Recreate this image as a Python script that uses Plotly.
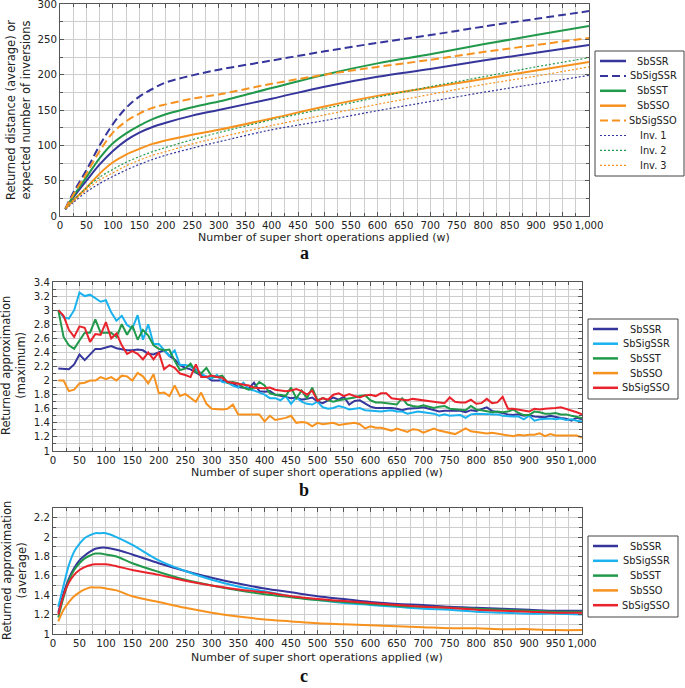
import plotly.graph_objects as go

# ---------------- data: panel a ----------------
W_A = [10, 25, 50, 75, 100, 125, 150, 175, 200, 250, 300, 400, 500, 600, 700, 800, 900, 1000]
A_SbSSR    = [10, 26, 50, 73, 92, 107, 118, 126, 132, 142, 150, 166, 183, 197, 208, 220, 231, 242]
A_SbSigSSR = [10, 33, 65, 100, 130, 153, 169, 180, 189, 199, 207, 220, 233, 245, 256, 268, 279, 290]
A_SbSST    = [10, 28, 55, 82, 103, 117, 128, 137, 144, 154, 162, 181, 200, 216, 229, 243, 256, 269]
A_SbSSO    = [10, 22, 40, 60, 76, 87, 95, 102, 107, 115, 122, 138, 155, 170, 182, 194, 206, 218]
A_SbSigSSO = [10, 30, 60, 92, 118, 134, 145, 153, 158, 166, 172, 187, 200, 211, 221, 232, 242, 252]
A_Inv1     = [9, 19, 34, 46, 56, 65, 73, 80, 86, 96, 105, 122, 135, 149, 162, 175, 187, 199]
A_Inv2     = [10, 22, 40, 55, 66, 76, 84, 91, 97, 108, 118, 136, 152, 168, 183, 197, 211, 224]
A_Inv3     = [10, 21, 37, 51, 61, 71, 79, 86, 91, 102, 111, 128, 143, 158, 172, 186, 198, 211]

# ---------------- data: panel b ----------------
W_B = list(range(10, 1001, 10))
B_SbSSR = [2.17, 2.17, 2.16, 2.23, 2.37, 2.29, 2.37, 2.45, 2.45, 2.47,
           2.49, 2.46, 2.44, 2.43, 2.43, 2.44, 2.43, 2.38, 2.37, 2.40,
           2.43, 2.35, 2.30, 2.22, 2.18, 2.16, 2.12, 2.07, 2.06, 2.00,
           2.00, 2.00, 1.98, 1.96, 1.91, 1.90, 1.89, 1.97, 1.85, 1.84,
           1.85, 1.80, 1.78, 1.77, 1.75, 1.76, 1.73, 1.74, 1.76, 1.70,
           1.68, 1.72, 1.76, 1.73, 1.77, 1.66, 1.71, 1.72, 1.68, 1.63,
           1.61, 1.61, 1.62, 1.61, 1.60, 1.58, 1.60, 1.60, 1.61, 1.62,
           1.60, 1.57, 1.56, 1.57, 1.57, 1.58, 1.57, 1.55, 1.58, 1.57,
           1.60, 1.62, 1.57, 1.55, 1.53, 1.52, 1.51, 1.52, 1.50, 1.51,
           1.49, 1.49, 1.48, 1.50, 1.48, 1.47, 1.46, 1.43, 1.47, 1.45]
B_SbSigSSR = [3.00, 2.90, 2.88, 3.00, 3.25, 3.20, 3.22, 3.17, 3.12, 3.14,
              2.97, 2.85, 2.92, 2.79, 2.74, 2.93, 2.58, 2.80, 2.52, 2.52,
              2.44, 2.35, 2.43, 2.22, 2.22, 2.20, 2.16, 2.10, 2.05, 2.03,
              2.08, 1.98, 1.97, 1.93, 1.90, 1.97, 1.88, 1.86, 1.83, 1.80,
              1.75, 1.75, 1.72, 1.78, 1.67, 1.76, 1.70, 1.67, 1.66, 1.70,
              1.62, 1.60, 1.61, 1.64, 1.62, 1.59, 1.60, 1.61, 1.58, 1.57,
              1.57, 1.56, 1.57, 1.58, 1.56, 1.56, 1.53, 1.55, 1.56, 1.55,
              1.54, 1.53, 1.50, 1.52, 1.50, 1.51, 1.51, 1.47, 1.52, 1.53,
              1.53, 1.52, 1.53, 1.52, 1.50, 1.49, 1.49, 1.49, 1.45, 1.50,
              1.43, 1.45, 1.46, 1.46, 1.45, 1.46, 1.44, 1.45, 1.43, 1.42]
B_SbSST = [3.00, 2.62, 2.50, 2.45, 2.57, 2.68, 2.68, 2.87, 2.68, 2.68,
           2.68, 2.62, 2.80, 2.65, 2.78, 2.58, 2.72, 2.64, 2.50, 2.45,
           2.43, 2.44, 2.28, 2.15, 2.17, 2.24, 2.12, 2.10, 2.18, 2.06,
           2.05, 2.07, 1.97, 1.98, 1.96, 1.90, 1.87, 1.90, 1.98, 1.93,
           1.82, 1.80, 1.80, 1.78, 1.90, 1.75, 1.86, 1.75, 1.90, 1.72,
           1.75, 1.72, 1.70, 1.72, 1.73, 1.74, 1.76, 1.78, 1.79, 1.72,
           1.69, 1.69, 1.68, 1.68, 1.66, 1.75, 1.66, 1.64, 1.63, 1.65,
           1.63, 1.61, 1.63, 1.64, 1.60, 1.59, 1.59, 1.58, 1.64, 1.59,
           1.58, 1.56, 1.55, 1.56, 1.55, 1.56, 1.59, 1.54, 1.51, 1.51,
           1.56, 1.55, 1.53, 1.53, 1.54, 1.52, 1.52, 1.50, 1.49, 1.47]
B_SbSSO = [2.00, 2.00, 1.85, 1.87, 1.96, 1.97, 2.00, 2.00, 2.05, 2.02,
           2.05, 2.00, 2.07, 2.06, 2.00, 2.11, 2.06, 1.96, 2.09, 1.82,
           1.83, 1.78, 1.93, 1.78, 1.81, 1.76, 1.70, 1.83, 1.67, 1.60,
           1.59, 1.59, 1.60, 1.66, 1.52, 1.52, 1.53, 1.52, 1.52, 1.42,
           1.50, 1.44, 1.45, 1.47, 1.50, 1.40, 1.41, 1.40, 1.35, 1.40,
           1.38, 1.39, 1.40, 1.37, 1.38, 1.39, 1.40, 1.38, 1.32, 1.35,
           1.33, 1.33, 1.31, 1.29, 1.32, 1.29, 1.27, 1.31, 1.30, 1.26,
           1.29, 1.32, 1.29, 1.27, 1.26, 1.24, 1.28, 1.32, 1.28, 1.27,
           1.25, 1.25, 1.26, 1.25, 1.24, 1.23, 1.21, 1.23, 1.22, 1.23,
           1.23, 1.25, 1.21, 1.24, 1.22, 1.22, 1.22, 1.23, 1.22, 1.19]
B_SbSigSSO = [3.00, 2.92, 2.72, 2.62, 2.77, 2.75, 2.55, 2.66, 2.65, 2.83,
              2.60, 2.67, 2.50, 2.38, 2.42, 2.38, 2.30, 2.40, 2.30, 2.40,
              2.16, 2.22, 2.18, 2.10, 2.08, 2.05, 2.23, 2.05, 2.05, 2.07,
              2.05, 2.04, 1.98, 1.97, 1.96, 1.94, 1.93, 1.90, 1.89, 1.89,
              1.90, 1.87, 1.86, 1.85, 1.86, 1.88, 1.85, 1.80, 1.86, 1.71,
              1.75, 1.73, 1.80, 1.82, 1.78, 1.81, 1.78, 1.76, 1.79, 1.80,
              1.78, 1.82, 1.82, 1.75, 1.74, 1.73, 1.72, 1.74, 1.73, 1.73,
              1.72, 1.70, 1.69, 1.68, 1.76, 1.70, 1.69, 1.69, 1.73, 1.67,
              1.68, 1.74, 1.68, 1.69, 1.77, 1.60, 1.60, 1.59, 1.57, 1.56,
              1.60, 1.59, 1.60, 1.60, 1.61, 1.62, 1.60, 1.57, 1.55, 1.52]

# ---------------- data: panel c ----------------
W_C = [10, 20, 30, 40, 50, 60, 70, 80, 90, 100, 120, 150, 200, 250, 300, 350, 400,
       450, 500, 550, 600, 650, 700, 750, 800, 850, 900, 950, 1000]
C_SbSSR    = [1.22, 1.42, 1.57, 1.68, 1.76, 1.81, 1.85, 1.88, 1.89, 1.89, 1.87, 1.82, 1.73, 1.65,
              1.58, 1.52, 1.47, 1.43, 1.39, 1.36, 1.33, 1.31, 1.30, 1.28, 1.27, 1.26, 1.25, 1.24, 1.24]
C_SbSigSSR = [1.28, 1.50, 1.71, 1.85, 1.93, 1.99, 2.02, 2.04, 2.04, 2.04, 2.00, 1.92, 1.76, 1.65,
              1.56, 1.49, 1.44, 1.39, 1.35, 1.32, 1.30, 1.28, 1.26, 1.25, 1.23, 1.22, 1.21, 1.21, 1.20]
C_SbSST    = [1.17, 1.38, 1.55, 1.66, 1.73, 1.78, 1.81, 1.83, 1.83, 1.82, 1.80, 1.73, 1.64, 1.56,
              1.50, 1.45, 1.41, 1.38, 1.35, 1.33, 1.31, 1.29, 1.28, 1.27, 1.26, 1.25, 1.24, 1.23, 1.23]
C_SbSSO    = [1.13, 1.25, 1.33, 1.39, 1.43, 1.46, 1.48, 1.48, 1.48, 1.47, 1.45, 1.39, 1.33, 1.27,
              1.22, 1.18, 1.15, 1.13, 1.11, 1.10, 1.09, 1.08, 1.07, 1.06, 1.06, 1.05, 1.05, 1.04, 1.04]
C_SbSigSSO = [1.20, 1.40, 1.53, 1.61, 1.66, 1.69, 1.71, 1.72, 1.72, 1.72, 1.70, 1.66, 1.61, 1.55,
              1.50, 1.46, 1.43, 1.39, 1.36, 1.34, 1.32, 1.30, 1.28, 1.27, 1.25, 1.24, 1.23, 1.22, 1.22]

X_TITLE = "Number of super short operations applied (w)"

# ---------------- styles ----------------
BLUE = "#35359c"
LBLUE = "#1ab2ee"
GREEN = "#21994b"
ORANGE = "#f7921e"
RED = "#e9222b"
FONT = "DejaVu Sans"
W, H = 685, 688
DASH = "8px,4px"
DOT = "2px,2px"
GRID = "#cdcdcd"
AXC = "#555555"

def px_x(p):
    return p / W

def px_y(p):
    return 1 - p / H

fig = go.Figure()

SERIES_A = [("SbSSR", A_SbSSR, BLUE, "solid", 2.0), ("SbSigSSR", A_SbSigSSR, BLUE, DASH, 2.0),
            ("SbSST", A_SbSST, GREEN, "solid", 2.0), ("SbSSO", A_SbSSO, ORANGE, "solid", 2.0),
            ("SbSigSSO", A_SbSigSSO, ORANGE, DASH, 2.0), ("Inv. 1", A_Inv1, BLUE, DOT, 1.2),
            ("Inv. 2", A_Inv2, GREEN, DOT, 1.2), ("Inv. 3", A_Inv3, ORANGE, DOT, 1.2)]
SERIES_B = [("SbSSR", B_SbSSR, BLUE), ("SbSigSSR", B_SbSigSSR, LBLUE), ("SbSST", B_SbSST, GREEN),
            ("SbSSO", B_SbSSO, ORANGE), ("SbSigSSO", B_SbSigSSO, RED)]
SERIES_C = [("SbSSR", C_SbSSR, BLUE), ("SbSigSSR", C_SbSigSSR, LBLUE), ("SbSST", C_SbSST, GREEN),
            ("SbSSO", C_SbSSO, ORANGE), ("SbSigSSO", C_SbSigSSO, RED)]

for name, y, col, dash, wd in SERIES_A:
    fig.add_trace(go.Scatter(x=W_A, y=y, name=name, mode="lines", showlegend=False,
                             line=dict(color=col, width=wd, dash=dash, shape="spline"),
                             xaxis="x", yaxis="y"))
for name, y, col in SERIES_B:
    fig.add_trace(go.Scatter(x=W_B, y=y, name=name, mode="lines", showlegend=False,
                             line=dict(color=col, width=2), xaxis="x2", yaxis="y2"))
for name, y, col in SERIES_C:
    fig.add_trace(go.Scatter(x=W_C, y=y, name=name, mode="lines", showlegend=False,
                             line=dict(color=col, width=2, shape="spline"), xaxis="x3", yaxis="y3"))

def axis(domain, rng, dtick, mdtick, anchor, fmt=None):
    d = dict(domain=domain, range=rng, dtick=dtick, tick0=rng[0], anchor=anchor,
             showgrid=True, gridcolor=GRID, gridwidth=1,
             showline=True, linecolor=AXC, linewidth=1, mirror="allticks",
             ticks="inside", ticklen=4, tickcolor=AXC, tickangle=0, automargin=False,
             tickfont=dict(family=FONT, size=10.2, color="#222"),
             zeroline=False, fixedrange=True,
             minor=dict(dtick=mdtick, tick0=rng[0], ticks="inside", ticklen=3, tickcolor=AXC,
                        showgrid=True, gridcolor=GRID, gridwidth=1))
    if fmt:
        d["tickformat"] = fmt
    return d

xa_dom = [px_x(60), px_x(589)]
xb_dom = [px_x(53), px_x(582)]
ya_dom = [px_y(216), px_y(4)]
yb_dom = [px_y(451), px_y(282)]
yc_dom = [px_y(634), px_y(508)]

annos = []
shapes = []
# y-axis titles
for txt, xc, yc in [("Returned distance (average) or<br>expected number of inversions", 18, 110),
                    ("Returned approximation<br>(maximum)", 14, 366),
                    ("Returned approximation<br>(average)", 14, 571)]:
    annos.append(dict(text=txt, x=px_x(xc), y=px_y(yc), xref="paper", yref="paper",
                      xanchor="center", yanchor="middle", textangle=-90, showarrow=False,
                      font=dict(family=FONT, size=11.5, color="#222")))
# x-axis titles
for xc, yc in [(324, 238), (317, 472), (317, 657)]:
    annos.append(dict(text=X_TITLE, x=px_x(xc), y=px_y(yc), xref="paper", yref="paper",
                      xanchor="center", yanchor="middle", showarrow=False,
                      font=dict(family=FONT, size=11, color="#222")))
# panel captions
for lab, yc in [("a", 253), ("b", 490), ("c", 676)]:
    annos.append(dict(text="<b>%s</b>" % lab, x=px_x(304), y=px_y(yc), xref="paper", yref="paper",
                      xanchor="center", yanchor="middle", showarrow=False,
                      font=dict(family="Liberation Serif", size=18, color="#111")))

# legends (box, sample line, label), one per panel
def legend_box(box, entries, line_x, text_x, y0, step):
    x0, y_top, x1, y_bot = box
    shapes.append(dict(type="rect", xref="paper", yref="paper",
                       x0=px_x(x0), x1=px_x(x1), y0=px_y(y_bot), y1=px_y(y_top),
                       line=dict(color="#444", width=1), fillcolor="white", layer="above"))
    for i, (name, col, dash, wd) in enumerate(entries):
        yy = y0 + i * step
        shapes.append(dict(type="line", xref="paper", yref="paper",
                           x0=px_x(line_x[0]), x1=px_x(line_x[1]), y0=px_y(yy), y1=px_y(yy),
                           line=dict(color=col, width=wd + 0.5 if dash == "solid" else wd,
                                     dash=dash), layer="above"))
        annos.append(dict(text=name, x=px_x(text_x), y=px_y(yy), xref="paper", yref="paper",
                          xanchor="center", yanchor="middle", showarrow=False,
                          font=dict(family=FONT, size=9.8, color="#222")))

legend_box((595, 51, 684, 176), [(n, c, d, w) for n, _, c, d, w in SERIES_A],
           (600, 626), 653, 61, 14.9)
legend_box((588, 319, 678, 399), [(n, c, "solid", 2.0) for n, _, c in SERIES_B],
           (593, 618), 646, 329, 14.7)
legend_box((588, 536, 678, 617), [(n, c, "solid", 2.0) for n, _, c in SERIES_C],
           (593, 618), 646, 546, 14.8)

fig.update_layout(
    width=W, height=H,
    margin=dict(l=0, r=0, t=0, b=0, autoexpand=False),
    paper_bgcolor="white", plot_bgcolor="white",
    xaxis=axis(xa_dom, [0, 1000], 50, 25, "y", ",d"),
    yaxis=axis(ya_dom, [0, 300], 50, 25, "x"),
    xaxis2=axis(xb_dom, [0, 1000], 50, 25, "y2", ",d"),
    yaxis2=axis(yb_dom, [1, 3.4], 0.2, 0.1, "x2"),
    xaxis3=axis(xb_dom, [0, 1000], 50, 25, "y3", ",d"),
    yaxis3=axis(yc_dom, [1, 2.3], 0.2, 0.1, "x3"),
    annotations=annos,
    shapes=shapes,
    showlegend=False,
)

fig.write_html("out.html", config={"displayModeBar": False},
               post_script="document.body.style.margin='0';")
